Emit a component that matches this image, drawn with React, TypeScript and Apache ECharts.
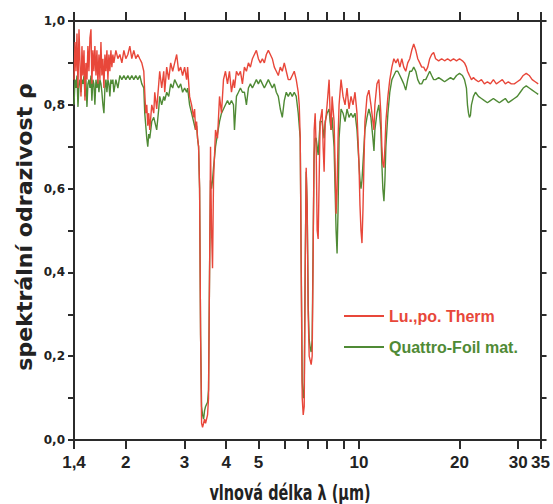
import React, { useEffect, useRef } from "react";
import * as echarts from "echarts";

// Wavelength grid (µm) shared by both measured spectra
const wavelengthUm = [
  1.400, 1.410, 1.419, 1.429, 1.439, 1.449, 1.459, 1.469, 1.479, 1.489,
  1.500, 1.510, 1.520, 1.531, 1.541, 1.552, 1.563, 1.574, 1.584, 1.595,
  1.606, 1.617, 1.629, 1.640, 1.651, 1.663, 1.674, 1.686, 1.697, 1.709,
  1.721, 1.733, 1.745, 1.757, 1.769, 1.781, 1.793, 1.806, 1.818, 1.831,
  1.843, 1.869, 1.895, 1.921, 1.948, 1.975, 2.002, 2.030, 2.058, 2.086,
  2.115, 2.144, 2.174, 2.204, 2.235, 2.266, 2.281, 2.297, 2.313, 2.329,
  2.345, 2.361, 2.394, 2.427, 2.444, 2.477, 2.512, 2.529, 2.564, 2.600,
  2.618, 2.654, 2.691, 2.728, 2.766, 2.804, 2.843, 2.882, 2.922, 2.962,
  3.003, 3.045, 3.066, 3.108, 3.151, 3.195, 3.217, 3.239, 3.262, 3.284,
  3.307, 3.330, 3.353, 3.376, 3.399, 3.423, 3.446, 3.470, 3.494, 3.518,
  3.542, 3.567, 3.591, 3.616, 3.641, 3.666, 3.717, 3.768, 3.821, 3.873,
  3.927, 3.981, 4.037, 4.092, 4.149, 4.207, 4.236, 4.294, 4.354, 4.414,
  4.475, 4.537, 4.600, 4.664, 4.728, 4.794, 4.860, 4.927, 4.996, 5.065,
  5.135, 5.206, 5.278, 5.351, 5.425, 5.500, 5.576, 5.654, 5.732, 5.811,
  5.892, 5.973, 6.056, 6.140, 6.225, 6.311, 6.398, 6.487, 6.577, 6.622,
  6.668, 6.714, 6.760, 6.807, 6.854, 6.901, 6.948, 6.996, 7.045, 7.093,
  7.142, 7.191, 7.241, 7.291, 7.341, 7.392, 7.443, 7.494, 7.546, 7.598,
  7.650, 7.756, 7.809, 7.863, 7.917, 8.027, 8.138, 8.194, 8.251, 8.307,
  8.422, 8.480, 8.539, 8.598, 8.657, 8.717, 8.837, 8.960, 9.084, 9.209,
  9.337, 9.466, 9.597, 9.730, 9.864, 10.00, 10.07, 10.14, 10.21, 10.28,
  10.35, 10.42, 10.57, 10.71, 10.86, 11.01, 11.09, 11.16, 11.32, 11.47,
  11.63, 11.71, 11.79, 11.88, 11.96, 12.04, 12.21, 12.37, 12.55, 12.72,
  12.90, 13.07, 13.26, 13.44, 13.62, 13.81, 14.00, 14.20, 14.39, 14.59,
  14.80, 15.00, 15.21, 15.42, 15.63, 15.85, 16.07, 16.29, 16.51, 16.74,
  16.97, 17.33, 17.69, 18.05, 18.43, 18.81, 19.20, 19.60, 20.01, 20.42,
  20.71, 20.99, 21.14, 21.29, 21.43, 21.58, 21.73, 22.03, 22.34, 22.80,
  23.28, 23.76, 24.26, 24.76, 25.28, 25.80, 26.34, 26.89, 27.45, 28.02,
  28.60, 29.20, 29.81, 30.43, 31.06, 31.71, 32.37, 33.04, 33.73, 34.44,
];

// Spectral reflectance, Lu.,po. Therm
const luPoTherm = [
  0.86, 0.95, 0.88, 0.97, 0.84, 0.98, 0.90, 0.82, 0.94, 0.87,
  0.93, 0.81, 0.90, 0.86, 0.94, 0.88, 0.96, 0.98, 0.85, 0.93,
  0.88, 0.94, 0.87, 0.93, 0.85, 0.92, 0.86, 0.95, 0.87, 0.91,
  0.84, 0.92, 0.88, 0.93, 0.86, 0.92, 0.88, 0.93, 0.89, 0.92,
  0.90, 0.93, 0.91, 0.92, 0.90, 0.93, 0.91, 0.92, 0.94, 0.91,
  0.93, 0.91, 0.92, 0.91, 0.90, 0.88, 0.83, 0.78, 0.80, 0.75,
  0.78, 0.74, 0.80, 0.78, 0.83, 0.79, 0.85, 0.88, 0.84, 0.88,
  0.83, 0.89, 0.86, 0.90, 0.88, 0.90, 0.92, 0.88, 0.89, 0.87,
  0.89, 0.86, 0.89, 0.82, 0.80, 0.77, 0.79, 0.74, 0.76, 0.72,
  0.70, 0.60, 0.25, 0.04, 0.03, 0.04, 0.05, 0.04, 0.05, 0.06,
  0.10, 0.40, 0.70, 0.50, 0.41, 0.62, 0.74, 0.72, 0.82, 0.78,
  0.86, 0.88, 0.85, 0.88, 0.83, 0.86, 0.84, 0.88, 0.87, 0.88,
  0.85, 0.89, 0.88, 0.90, 0.89, 0.91, 0.92, 0.93, 0.91, 0.90,
  0.91, 0.90, 0.92, 0.93, 0.92, 0.91, 0.89, 0.88, 0.87, 0.89,
  0.88, 0.90, 0.88, 0.86, 0.86, 0.87, 0.88, 0.86, 0.83, 0.80,
  0.72, 0.40, 0.10, 0.06, 0.08, 0.40, 0.65, 0.55, 0.30, 0.20,
  0.19, 0.18, 0.20, 0.45, 0.74, 0.78, 0.70, 0.50, 0.48, 0.62,
  0.76, 0.79, 0.70, 0.64, 0.75, 0.80, 0.86, 0.78, 0.74, 0.82,
  0.76, 0.66, 0.54, 0.60, 0.72, 0.80, 0.86, 0.82, 0.80, 0.84,
  0.79, 0.82, 0.80, 0.83, 0.78, 0.66, 0.56, 0.50, 0.47, 0.55,
  0.66, 0.76, 0.82, 0.835, 0.80, 0.76, 0.74, 0.80, 0.85, 0.86,
  0.78, 0.70, 0.66, 0.65, 0.70, 0.76, 0.82, 0.86, 0.89, 0.91,
  0.90, 0.91, 0.89, 0.91, 0.89, 0.88, 0.90, 0.91, 0.93, 0.945,
  0.93, 0.91, 0.90, 0.89, 0.89, 0.88, 0.89, 0.91, 0.92, 0.925,
  0.91, 0.905, 0.91, 0.905, 0.91, 0.905, 0.91, 0.905, 0.91, 0.905,
  0.90, 0.89, 0.88, 0.875, 0.87, 0.865, 0.86, 0.865, 0.86, 0.855,
  0.86, 0.85, 0.855, 0.85, 0.86, 0.85, 0.855, 0.86, 0.85, 0.855,
  0.85, 0.85, 0.855, 0.86, 0.87, 0.875, 0.87, 0.86, 0.855, 0.85,
];

// Spectral reflectance, Quattro-Foil mat.
const quattroFoil = [
  0.80, 0.86, 0.84, 0.87, 0.795, 0.85, 0.86, 0.83, 0.86, 0.85,
  0.87, 0.82, 0.86, 0.795, 0.85, 0.86, 0.84, 0.87, 0.81, 0.86,
  0.85, 0.80, 0.86, 0.84, 0.86, 0.83, 0.86, 0.85, 0.83, 0.80,
  0.78, 0.84, 0.86, 0.83, 0.86, 0.85, 0.82, 0.86, 0.85, 0.86,
  0.83, 0.86, 0.84, 0.87, 0.86, 0.87, 0.86, 0.87, 0.86, 0.87,
  0.86, 0.87, 0.86, 0.87, 0.85, 0.84, 0.78, 0.75, 0.72, 0.70,
  0.73, 0.72, 0.76, 0.77, 0.76, 0.74, 0.79, 0.82, 0.80, 0.82,
  0.81, 0.83, 0.82, 0.85, 0.84, 0.86, 0.85, 0.84, 0.85, 0.83,
  0.84, 0.83, 0.84, 0.80, 0.78, 0.76, 0.75, 0.74, 0.75, 0.72,
  0.70, 0.60, 0.25, 0.08, 0.06, 0.05, 0.07, 0.08, 0.085, 0.09,
  0.12, 0.40, 0.62, 0.60, 0.62, 0.65, 0.70, 0.73, 0.76, 0.78,
  0.79, 0.80, 0.81, 0.80, 0.81, 0.80, 0.74, 0.82, 0.83, 0.84,
  0.83, 0.83, 0.80, 0.84, 0.85, 0.84, 0.85, 0.86, 0.85, 0.86,
  0.85, 0.84, 0.85, 0.86, 0.85, 0.84, 0.85, 0.83, 0.82, 0.79,
  0.77, 0.81, 0.83, 0.82, 0.83, 0.82, 0.83, 0.82, 0.78, 0.75,
  0.72, 0.42, 0.14, 0.10, 0.12, 0.42, 0.64, 0.56, 0.32, 0.24,
  0.22, 0.21, 0.24, 0.48, 0.68, 0.72, 0.72, 0.70, 0.68, 0.72,
  0.76, 0.76, 0.74, 0.72, 0.76, 0.78, 0.79, 0.76, 0.74, 0.77,
  0.70, 0.60, 0.50, 0.445, 0.55, 0.72, 0.79, 0.78, 0.76, 0.79,
  0.77, 0.78, 0.77, 0.78, 0.74, 0.66, 0.62, 0.60, 0.62, 0.66,
  0.70, 0.74, 0.77, 0.79, 0.77, 0.72, 0.69, 0.74, 0.78, 0.80,
  0.74, 0.66, 0.60, 0.57, 0.62, 0.70, 0.78, 0.83, 0.86, 0.87,
  0.88, 0.88, 0.87, 0.86, 0.85, 0.835, 0.86, 0.88, 0.88, 0.89,
  0.88, 0.86, 0.85, 0.85, 0.86, 0.86, 0.87, 0.88, 0.87, 0.86,
  0.86, 0.865, 0.86, 0.855, 0.86, 0.865, 0.86, 0.87, 0.875, 0.87,
  0.86, 0.84, 0.80, 0.78, 0.77, 0.775, 0.80, 0.82, 0.83, 0.82,
  0.815, 0.81, 0.805, 0.81, 0.815, 0.81, 0.805, 0.81, 0.815, 0.805,
  0.81, 0.815, 0.82, 0.83, 0.84, 0.845, 0.84, 0.835, 0.83, 0.825,
];

const xTickValues = [1.4, 2, 3, 4, 5, 6, 7, 8, 9, 10, 20, 30, 35];
const xLabelValues = [1.4, 2, 3, 4, 5, 10, 20, 30, 35];
const yLabelValues = [0, 0.2, 0.4, 0.6, 0.8, 1.0];

const seriesNames = ["Lu.,po. Therm", "Quattro-Foil mat."];
const seriesColors = ["#e8473a", "#4f8a35"];

const xTitle = "vlnová délka λ (μm)";
const yTitle = "spektrální odrazivost ρ";

const SANS = "'Liberation Sans', Arial, sans-serif";
const DEJA = "'DejaVu Sans', sans-serif";
const AXIS = "#2b2b2b";

export default function App() {
  const ref = useRef<HTMLDivElement>(null);

  useEffect(() => {
    if (!ref.current) return;
    document.body.style.margin = "0";
    const chart = echarts.init(ref.current, undefined, { renderer: "svg" });

    const pairs = (ys: number[]) => wavelengthUm.map((x, i) => [x, ys[i]]);
    const fmtX = (v: number) => String(Number(v.toPrecision(3))).replace(".", ",");

    const xCommon = {
      type: "log" as const,
      logBase: 10,
      min: 1.4,
      max: 35,
      splitLine: { show: false },
      axisLine: { show: true, onZero: false, lineStyle: { color: AXIS, width: 2 } },
    };
    const yCommon = {
      type: "value" as const,
      min: 0,
      max: 1,
      interval: 0.1,
      splitLine: { show: false },
      axisLine: { show: true, onZero: false, lineStyle: { color: AXIS, width: 2 } },
    };

    chart.setOption({
      animation: false,
      backgroundColor: "#ffffff",
      grid: { left: 74, right: 11, top: 21, bottom: 64, containLabel: false },
      xAxis: [
        {
          ...xCommon,
          position: "bottom",
          axisTick: {
            show: true,
            inside: false,
            length: 9,
            customValues: xTickValues,
            lineStyle: { color: AXIS, width: 2 },
          },
          axisLabel: {
            show: true,
            customValues: xLabelValues,
            formatter: (v: number) => fmtX(v),
            margin: 14,
            color: "#222",
            fontFamily: SANS,
            fontWeight: "bold",
            fontSize: 17,
            hideOverlap: false,
          },
        },
        {
          ...xCommon,
          position: "top",
          axisTick: {
            show: true,
            inside: false,
            length: 9,
            customValues: xTickValues,
            lineStyle: { color: AXIS, width: 2 },
          },
          axisLabel: { show: false },
        },
      ],
      yAxis: [
        {
          ...yCommon,
          position: "left",
          axisTick: { show: true, inside: false, length: 6, lineStyle: { color: AXIS, width: 2 } },
          axisLabel: {
            show: true,
            customValues: yLabelValues,
            formatter: (v: number) => v.toFixed(1).replace(".", ","),
            margin: 9,
            color: "#222",
            fontFamily: DEJA,
            fontWeight: "bold",
            fontSize: 12,
          },
        },
        {
          ...yCommon,
          position: "right",
          axisTick: { show: true, inside: false, length: 6, lineStyle: { color: AXIS, width: 2 } },
          axisLabel: { show: false },
        },
      ],
      legend: {
        show: true,
        orient: "vertical",
        left: 339,
        top: 301,
        icon: "rect",
        itemWidth: 40,
        itemHeight: 2,
        itemGap: 11,
        data: seriesNames.map((n, i) => ({
          name: n,
          textStyle: { color: seriesColors[i] },
        })),
        textStyle: {
          fontFamily: SANS,
          fontWeight: "bold",
          fontSize: 16,
          lineHeight: 20,
        },
      },
      graphic: [
        {
          type: "text",
          x: 290,
          y: 493,
          scaleX: 0.85,
          scaleY: 1.2,
          style: {
            text: xTitle,
            fill: "#222",
            font: `bold 17px ${DEJA}`,
            textAlign: "center",
            textVerticalAlign: "middle",
          },
        },
        {
          type: "text",
          x: 25,
          y: 227,
          rotation: Math.PI / 2,
          scaleX: 1.3,
          scaleY: 1.2,
          style: {
            text: yTitle,
            fill: "#222",
            font: `bold 17px ${DEJA}`,
            textAlign: "center",
            textVerticalAlign: "middle",
          },
        },
      ],
      series: [
        {
          name: seriesNames[1],
          type: "line",
          data: pairs(quattroFoil),
          symbol: "none",
          showSymbol: false,
          lineStyle: { color: seriesColors[1], width: 1.4 },
          itemStyle: { color: seriesColors[1] },
          z: 2,
        },
        {
          name: seriesNames[0],
          type: "line",
          data: pairs(luPoTherm),
          symbol: "none",
          showSymbol: false,
          lineStyle: { color: seriesColors[0], width: 1.4 },
          itemStyle: { color: seriesColors[0] },
          z: 3,
        },
      ],
    });

    return () => chart.dispose();
  }, []);

  return <div ref={ref} style={{ width: 553, height: 504 }} />;
}
